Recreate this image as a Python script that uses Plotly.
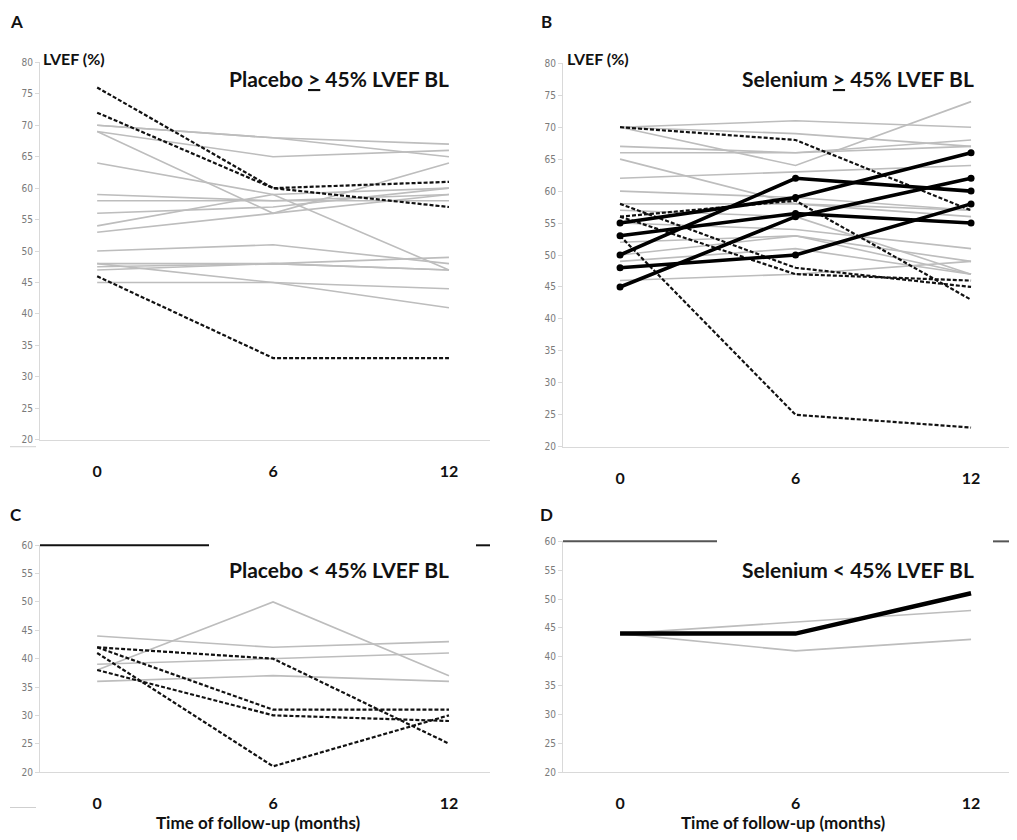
import plotly.graph_objects as go

W, H = 1017, 840
OFF = 8  # page body margin in the browser

time_months = [0, 6, 12]
time_labels = ["0", "6", "12"]

# Panel A: Placebo >= 45% LVEF at baseline
placebo_hi_gray = [
    [70, 68, 67], [70, 68, 65], [69, 65, 66], [69, 56, 64], [64, 59, 47],
    [59, 58, 58], [58, 58, 59], [56, 57, 60], [54, 59, 60], [53, 56, 59],
    [50, 51, 48], [48, 48, 49], [47.5, 48, 47], [47, 48, 47], [48, 45, 41],
    [45, 45, 44],
]
placebo_hi_dash = [[76, 60, 57], [72, 60, 61], [46, 33, 33]]

# Panel B: Selenium >= 45% LVEF at baseline
selenium_hi_gray = [
    [70, 71, 70], [70, 69, 67], [70, 64, 74], [67, 66, 68], [66, 66, 67],
    [65, 58, 57], [62, 63, 64], [60, 59, 57], [58, 58, 56], [55, 54, 51],
    [52, 53, 49], [50, 53, 47], [49, 51, 47], [46, 47, 49], [57, 56, 47],
]
selenium_hi_dash = [[70, 68, 57], [58, 48, 45], [56, 58.5, 43], [56, 47, 46], [53, 25, 23]]
selenium_hi_bold = [[55, 59, 66], [53, 56.5, 55], [50, 62, 60], [48, 50, 58], [45, 56, 62]]

# Panel C: Placebo < 45% LVEF at baseline
placebo_lo_gray = [[38, 50, 37], [44, 42, 43], [39, 40, 41], [36, 37, 36]]
placebo_lo_dash = [[42, 40, 25], [42, 31, 31], [38, 30, 29], [41, 21, 30]]

# Panel D: Selenium < 45% LVEF at baseline
selenium_lo_gray = [[44, 46, 48], [44, 41, 43]]
selenium_lo_bold = [[44, 44, 51]]

panel_titles = ["Placebo <u>&gt;</u> 45% LVEF BL", "Selenium <u>&gt;</u> 45% LVEF BL",
                "Placebo &lt; 45% LVEF BL", "Selenium &lt; 45% LVEF BL"]
panel_letters = ["A", "B", "C", "D"]
y_label = "LVEF (%)"
x_title = "Time of follow-up (months)"

FONT = "Lato, 'Open Sans', sans-serif"
GRAY = "#bdbdbd"

fig = go.Figure()


def px(x):
    return (x - OFF) / W


def py(y):
    return 1 - (y - OFF) / H


domains = {
    1: ([40, 490], [57, 440], [20, 80]),
    2: ([563, 1012], [58, 447], [20, 80]),
    3: ([40, 490], [547, 777], [20, 60]),
    4: ([563, 1012], [543, 777], [20, 60]),
}


def add_group(series, axis, style):
    xa = "x" if axis == 1 else f"x{axis}"
    ya = "y" if axis == 1 else f"y{axis}"
    for s in series:
        if style == "gray":
            fig.add_trace(go.Scatter(x=time_months, y=s, mode="lines", xaxis=xa, yaxis=ya,
                                     line=dict(color=GRAY, width=1.6), showlegend=False))
        elif style == "dash":
            fig.add_trace(go.Scatter(x=time_months, y=s, mode="lines", xaxis=xa, yaxis=ya,
                                     line=dict(color="#111", width=2.2, dash="4px,2px"),
                                     showlegend=False))
        else:
            fig.add_trace(go.Scatter(x=time_months, y=s, mode="lines+markers", xaxis=xa, yaxis=ya,
                                     line=dict(color="#000", width=3.6),
                                     marker=dict(color="#000", size=7), showlegend=False))


add_group(placebo_hi_gray, 1, "gray")
add_group(placebo_hi_dash, 1, "dash")
add_group(selenium_hi_gray, 2, "gray")
add_group(selenium_hi_dash, 2, "dash")
add_group(selenium_hi_bold, 2, "bold")
add_group(placebo_lo_gray, 3, "gray")
add_group(placebo_lo_dash, 3, "dash")
add_group(selenium_lo_gray, 4, "gray")
fig.add_trace(go.Scatter(x=time_months, y=selenium_lo_bold[0], mode="lines", xaxis="x4", yaxis="y4",
                         line=dict(color="#000", width=4.5), showlegend=False))

layout = dict(width=W, height=H, margin=dict(l=0, r=0, t=0, b=0),
              paper_bgcolor="white", plot_bgcolor="white", font=dict(family=FONT))
for i, (xd, yd, yr) in domains.items():
    xs = "xaxis" if i == 1 else f"xaxis{i}"
    ys = "yaxis" if i == 1 else f"yaxis{i}"
    ax_id = "x" if i == 1 else f"x{i}"
    ay_id = "y" if i == 1 else f"y{i}"
    layout[xs] = dict(domain=[px(xd[0]), px(xd[1])], anchor=ay_id, range=[-1.95, 13.4],
                      tickvals=time_months, ticktext=time_labels, showgrid=False, zeroline=False,
                      showline=True, linecolor="#d9d9d9", linewidth=1, ticks="",
                      tickfont=dict(size=16, color="#111", family=FONT, weight="bold"),
                      ticklabelstandoff=17)
    layout[ys] = dict(domain=[py(yd[1]), py(yd[0])], anchor=ax_id, range=yr, dtick=5,
                      showgrid=False, zeroline=False, showline=True, linecolor="#d9d9d9",
                      linewidth=1, ticks="outside", ticklen=4, tickcolor="#d9d9d9",
                      tickfont=dict(size=10, color="#7a7a7a",
                                    family="'DejaVu Sans Condensed', 'DejaVu Sans'"))
fig.update_layout(**layout)

ann = []


def add_text(x, y, text, size):
    ann.append(dict(x=px(x), y=py(y), xref="paper", yref="paper", text=f"<b>{text}</b>",
                    xanchor="center", yanchor="middle", showarrow=False,
                    font=dict(size=size, color="#111", family=FONT)))


for (lx, ly), t in zip([(16, 16), (546, 16), (16, 516), (546, 516)], panel_letters):
    add_text(lx, ly, t, 17)
for (tx, ty), t in zip([(339, 73), (858, 73), (339, 572), (858, 572)], panel_titles):
    add_text(tx, ty, t, 21)
for lx in (74, 598):
    add_text(lx, 53, y_label, 16)
for cx in (258, 783):
    add_text(cx, 828, x_title, 17)
fig.update_layout(annotations=ann)

shapes = []


def hseg(x0, x1, y, color, width):
    shapes.append(dict(type="line", xref="paper", yref="paper", x0=px(x0), x1=px(x1),
                       y0=py(y), y1=py(y), line=dict(color=color, width=width)))


hseg(40, 209, 547, "#111", 2)
hseg(476, 490, 547, "#111", 2)
hseg(563, 717, 543, "#555", 2)
hseg(993, 1017, 543, "#555", 2)
hseg(10, 36, 447, "#cfcfcf", 1)
hseg(10, 36, 813, "#cfcfcf", 1)
fig.update_layout(shapes=shapes)

fig.write_html("out.html")
